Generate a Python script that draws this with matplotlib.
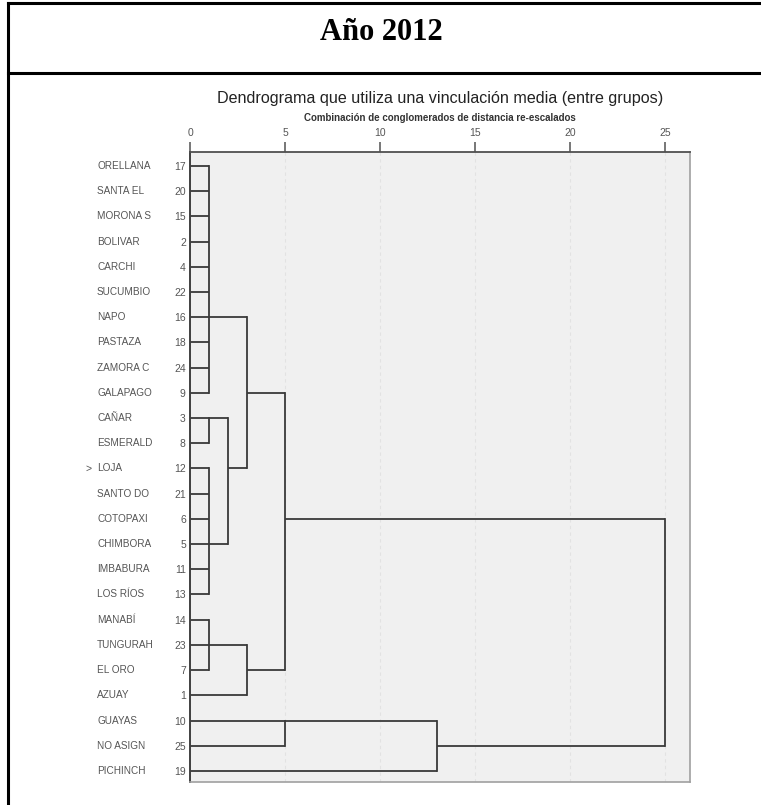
import matplotlib.pyplot as plt
import matplotlib.lines as mlines

# provinces in dendrogram order, with SPSS case numbers
provincias = ["ORELLANA", "SANTA EL", "MORONA S", "BOLIVAR", "CARCHI", "SUCUMBIO",
              "NAPO", "PASTAZA", "ZAMORA C", "GALAPAGO", "CAÑAR", "ESMERALD",
              "LOJA", "SANTO DO", "COTOPAXI", "CHIMBORA", "IMBABURA", "LOS RÍOS",
              "MANABÍ", "TUNGURAH", "EL ORO", "AZUAY", "GUAYAS", "NO ASIGN", "PICHINCH"]
casos = [17, 20, 15, 2, 4, 22, 16, 18, 24, 9, 3, 8, 12, 21, 6, 5, 11, 13,
         14, 23, 7, 1, 10, 25, 19]

# merges: (children, rescaled distance, row where the joined cluster continues)
# children are leaf indices (int) or earlier merge ids ("m0", "m1", ...)
hijos = [
    [0, 1, 2, 3, 4, 5, 6, 7, 8, 9],
    [10, 11],
    [12, 13, 14, 15, 16, 17],
    ["m1", "m2"],
    ["m0", "m3"],
    [18, 19, 20],
    ["m5", 21],
    ["m4", "m6"],
    [22, 23],
    ["m8", 24],
    ["m7", "m9"],
]
alturas = [1, 1, 1, 2, 3, 1, 3, 5, 5, 13, 25]
filas = [6, 10, 15, 12, 9, 19, 20, 14, 22, 23, None]

ticks_x = [0, 5, 10, 15, 20, 25]

W, H = 761, 805
fig = plt.figure(figsize=(W / 100, H / 100), dpi=100)
fig.patch.set_facecolor("white")

def fx(px):
    return px / W

def fy(py):
    return 1 - py / H

# table cell borders around the chart
for seg in [((fx(8), fx(761)), (fy(3), fy(3))),
            ((fx(8), fx(761)), (fy(73), fy(73))),
            ((fx(8), fx(8)), (fy(3), fy(805)))]:
    fig.add_artist(mlines.Line2D(seg[0], seg[1], color="black", lw=2.2,
                                 solid_capstyle="projecting"))

fig.text(fx(381), fy(33), "Año 2012", ha="center", va="center",
         family="Liberation Serif", fontweight="bold", fontsize=22)

sans = ["Liberation Sans", "DejaVu Sans"]

fig.text(fx(440), fy(98), "Dendrograma que utiliza una vinculación media (entre grupos)",
         ha="center", va="center", family=sans, fontsize=11.6, color="#222222")
fig.text(fx(440), fy(118), "Combinación de conglomerados de distancia re-escalados",
         ha="center", va="center", family=sans, fontweight="bold",
         fontsize=7, color="#333333")

ax = fig.add_axes([fx(190), fy(782), fx(690) - fx(190), fy(152) - fy(782)])
ax.set_facecolor("#f0f0f0")
ax.set_xlim(0, 26.3)
ax.set_ylim(24.44, -0.556)

for s in ["right", "bottom"]:
    ax.spines[s].set_color("#a0a0a0")
    ax.spines[s].set_linewidth(1.2)
ax.spines["top"].set_color("#505050")
ax.spines["top"].set_linewidth(1.3)
ax.spines["left"].set_color("#404040")
ax.spines["left"].set_linewidth(1.4)

ax.xaxis.tick_top()
ax.set_xticks(ticks_x)
ax.set_xticklabels([str(t) for t in ticks_x], family=sans, fontsize=7.5, color="#555555")
ax.tick_params(axis="x", direction="out", length=7, width=1.2, color="#606060", pad=3)

ax.set_yticks(range(len(casos)))
ax.set_yticklabels([str(c) for c in casos], family=sans, fontsize=7.5, color="#555555")
ax.tick_params(axis="y", length=0, pad=3)

# faint guide lines at the tick positions
for t in ticks_x[1:]:
    ax.axvline(t, color="#e2e2e2", lw=0.8, ls=(0, (3, 3)), zorder=0)

for i, nombre in enumerate(provincias):
    ax.text(-0.186, i, nombre, transform=ax.get_yaxis_transform(), ha="left",
            va="center", family=sans, fontsize=7.2, color="#555555")
ax.text(-0.21, provincias.index("LOJA"), ">", transform=ax.get_yaxis_transform(),
        ha="left", va="center", family=sans, fontsize=7.5, color="#555555")

# draw the links, SPSS style: horizontal from child to join height, vertical span
color_l = "#3a3a3a"
lw_l = 1.3
nodos = {}
for k, (ch, h, fila) in enumerate(zip(hijos, alturas, filas)):
    rows = []
    for c in ch:
        if isinstance(c, int):
            x0, r = 0, c
        else:
            x0, r = nodos[c]
        ax.plot([x0, h], [r, r], color=color_l, lw=lw_l, solid_capstyle="butt")
        rows.append(r)
    ax.plot([h, h], [min(rows), max(rows)], color=color_l, lw=lw_l, solid_capstyle="projecting")
    nodos["m%d" % k] = (h, fila)

fig.savefig("out.png", dpi=100)
